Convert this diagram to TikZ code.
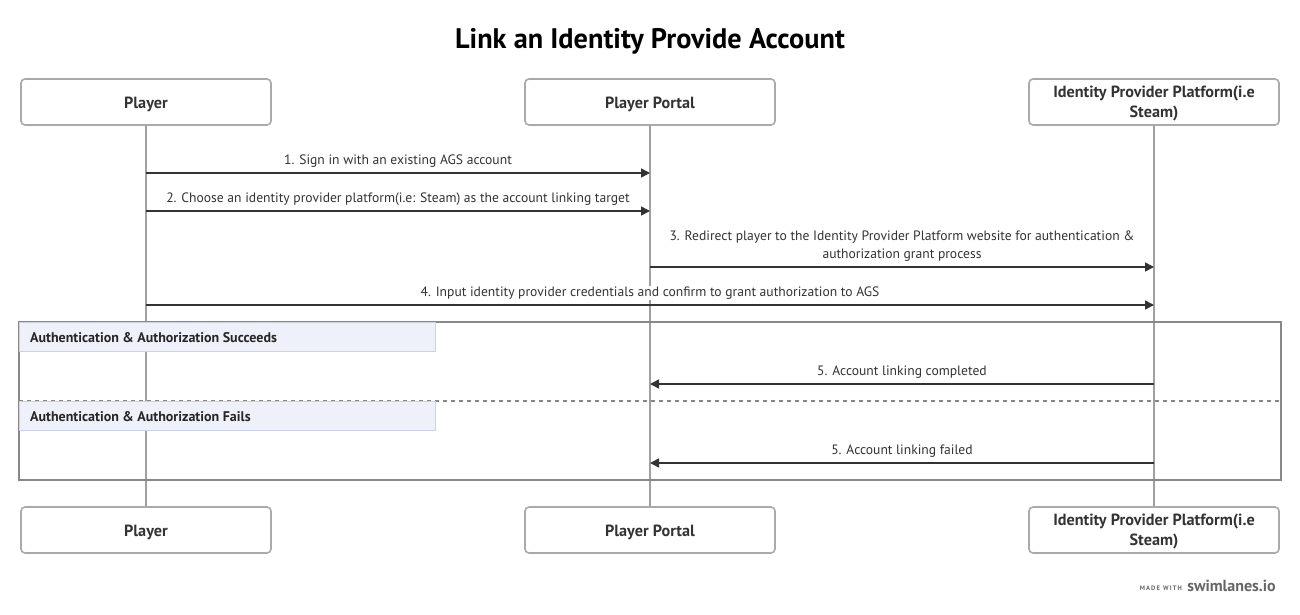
\documentclass[tikz,border=0pt]{standalone}
\usepackage{fontspec}
\setmainfont{PT Sans}
\usetikzlibrary{arrows.meta}
\definecolor{txt}{HTML}{333333}
\definecolor{lifec}{HTML}{A0A0A0}
\definecolor{boxc}{HTML}{AAAAAA}
\definecolor{hdrfill}{HTML}{EEF1FA}
\definecolor{hdrline}{HTML}{CCD1E4}
\definecolor{framec}{HTML}{888888}
\definecolor{footc}{HTML}{666666}
\tikzset{
  actor/.style={draw=boxc, line width=1.6pt, rounded corners=4pt, fill=white,
    minimum width=250pt, minimum height=46pt, inner sep=0pt},
  actorlabel/.style={align=center, text=txt, inner sep=0pt,
    font=\fontsize{16.2}{20}\selectfont\bfseries},
  lifeline/.style={draw=lifec, line width=1.6pt},
  msg/.style={draw=txt, line width=1.6pt, -{Triangle[length=9pt,width=9pt]}},
  msglabel/.style={fill=white, text=txt, font=\fontsize{13.6}{18}\selectfont, inner sep=1pt, align=center},
  hdr/.style={draw=hdrline, line width=0.8pt, fill=hdrfill},
  hdrlabel/.style={text=black!85, font=\fontsize{14}{16}\selectfont\bfseries, anchor=west, inner sep=0pt},
}
\begin{document}
\begin{tikzpicture}[x=1pt,y=-1pt]
\useasboundingbox[fill=white] (0,0) rectangle (1300,614);
% title
\node[text=black, font=\fontsize{28.3}{32}\selectfont\bfseries] (title) at (650,41) {Link an Identity Provide Account};
% actors
\node[actor] (pTop) at (146,102) {};
\node[actor] (ppTop) at (650,102) {};
\node[actor] (idTop) at (1154,102) {};
\node[actor] (pBot) at (146,530) {};
\node[actor] (ppBot) at (650,530) {};
\node[actor] (idBot) at (1154,530) {};
\node[actorlabel] (pTopL) at (146,104) {Player};
\node[actorlabel] (ppTopL) at (650,104) {Player Portal};
\node[actorlabel] (idTopL) at (1154,104) {Identity Provider Platform(i.e\\Steam)};
\node[actorlabel] (pBotL) at (146,532) {Player};
\node[actorlabel] (ppBotL) at (650,532) {Player Portal};
\node[actorlabel] (idBotL) at (1154,532) {Identity Provider Platform(i.e\\Steam)};
% lifelines
\draw[lifeline] (pTop) -- (pBot);
\draw[lifeline] (ppTop) -- (ppBot);
\draw[lifeline] (idTop) -- (idBot);
% coordinates on lifelines
\coordinate (p1) at (146,173); \coordinate (pp1) at (650,173);
\coordinate (p2) at (146,211); \coordinate (pp2) at (650,211);
\coordinate (pp3) at (650,267); \coordinate (id3) at (1154,267);
\coordinate (p4) at (146,305); \coordinate (id4) at (1154,305);
\coordinate (id5) at (1154,384); \coordinate (pp5) at (650,384);
\coordinate (id6) at (1154,463); \coordinate (pp6) at (650,463);
% messages
\node[msglabel] (l1) at (398,161) {1. Sign in with an existing AGS account};
\draw[msg] (p1) -- (pp1);
\node[msglabel] (l2) at (398,199) {2. Choose an identity provider platform(i.e: Steam) as the account linking target};
\draw[msg] (p2) -- (pp2);
\node[msglabel] (l3) at (902,246) {3. Redirect player to the Identity Provider Platform website for authentication \&\\authorization grant process};
\draw[msg] (pp3) -- (id3);
\node[msglabel] (l4) at (650,293) {4. Input identity provider credentials and confirm to grant authorization to AGS};
\draw[msg] (p4) -- (id4);
% alt frame
\draw[draw=framec, line width=1.6pt] (19,322) rectangle (1281,480);
\draw[hdr] (19,322) rectangle (435,351);
\node[hdrlabel] (h1) at (30,338) {Authentication \& Authorization Succeeds};
\node[msglabel] (l5) at (902,372) {5. Account linking completed};
\draw[msg] (id5) -- (pp5);
\draw[draw=framec, line width=1.3pt, dash pattern=on 4pt off 4pt] (19,401) -- (1281,401);
\draw[hdr] (19,401) rectangle (435,430);
\node[hdrlabel] (h2) at (30,417) {Authentication \& Authorization Fails};
\node[msglabel] (l6) at (902,451) {5. Account linking failed};
\draw[msg] (id6) -- (pp6);
% footer
\node[anchor=base east, text=footc, inner sep=0pt, font=\fontsize{16}{20}\selectfont\bfseries] (sw) at (1276,591) {swimlanes.io};
\node[anchor=base east, text=footc, inner sep=0pt, font=\fontsize{6.5}{8}\selectfont\bfseries] (mw) at (1182,590) {M\,A\,D\,E\ \ W\,I\,T\,H};
\end{tikzpicture}
\end{document}
